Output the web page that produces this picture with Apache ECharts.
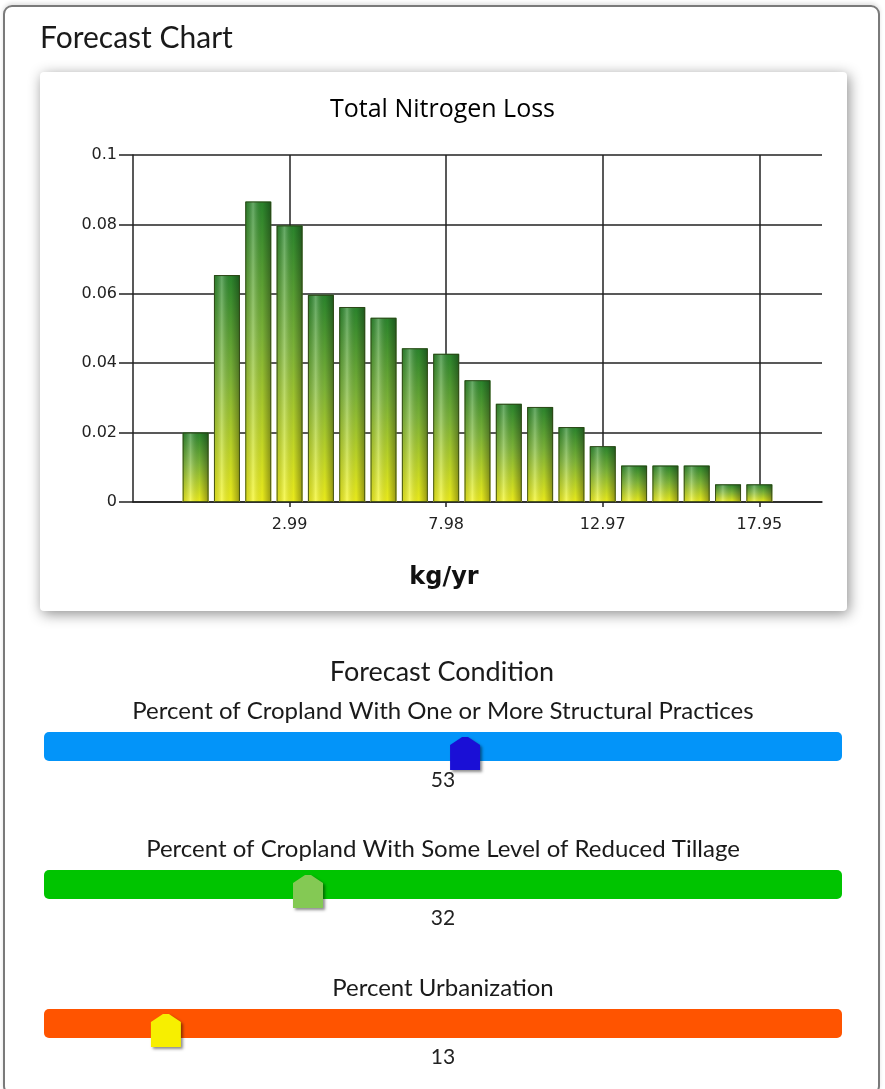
<!DOCTYPE html>
<html>
<head>
<meta charset="utf-8">
<script src="https://cdn.jsdelivr.net/npm/echarts@6/dist/echarts.min.js"></script>
<style>
  html, body { margin: 0; padding: 0; background: #fff; }
  #page { position: relative; width: 885px; height: 1089px; overflow: hidden; }
  #panel {
    position: absolute; left: 3px; top: 5px; width: 877px; height: 1090px;
    border: 2px solid #7a7a7a; border-radius: 9px; box-sizing: border-box;
    box-shadow: 0 -2px 4px rgba(0,0,0,0.12);
  }
  #card {
    position: absolute; left: 40px; top: 72px; width: 807px; height: 539px;
    background: #fff; border-radius: 4px;
    box-shadow: 2px 3px 14px rgba(0,0,0,0.45);
  }
  #chart { position: absolute; left: 0; top: 0; width: 885px; height: 1089px; }
</style>
</head>
<body>
<div id="page">
  <div id="panel"></div>
  <div id="card"></div>
  <div id="chart"></div>
</div>
<script>
// Histogram bins of total nitrogen loss (kg/yr), bin centres
const binCenters = ['0.00', '1.00', '1.99', '2.99', '3.99', '4.99', '5.98', '6.98', '7.98', '8.98',
                    '9.97', '10.97', '11.97', '12.97', '13.96', '14.96', '15.96', '16.96', '17.95'];
// Empty bins drawn either side of the histogram
const leadBins = ['-1.99', '-1.00'];
const trailBins = ['18.95', '19.95'];
// Probability of each bin
const lossValues = [0.0200, 0.0654, 0.0866, 0.0797, 0.0597, 0.0562, 0.0531, 0.0443, 0.0427, 0.0351,
                    0.0283, 0.0274, 0.0216, 0.0161, 0.0105, 0.0105, 0.0105, 0.0051, 0.0051];
// Labelled ticks on the x axis
const tickLabels = ['2.99', '7.98', '12.97', '17.95'];

// Forecast condition sliders
const sliderTitles = [
  'Percent of Cropland With One or More Structural Practices',
  'Percent of Cropland With Some Level of Reduced Tillage',
  'Percent Urbanization'
];
const sliderValues = [53, 32, 13];

// Styling
const trackColors = ['#0394f9', '#00c400', '#ff5400'];
const thumbColors = ['#1a0fd6', '#84c954', '#f7ef00'];
const panelFont = 'Lato, "Open Sans", sans-serif';
const axisFont = '"DejaVu Sans", sans-serif';
const sliderTop = [732, 870, 1009];
const trackLeft = 44, trackWidth = 798, trackHeight = 29;

const categories = leadBins.concat(binCenters, trailBins);
const barData = binCenters.map((c, i) => [c, lossValues[i]]);
const isTick = (idx, v) => tickLabels.indexOf(v) >= 0;

const chart = echarts.init(document.getElementById('chart'), null, { renderer: 'canvas' });

const grids = [{ left: 133, top: 155, width: 689, height: 347, containLabel: false, outerBoundsMode: 'none' }];
const xAxes = [{
  type: 'category', gridIndex: 0, data: categories, boundaryGap: false,
  axisLine: { lineStyle: { color: '#222', width: 1.5 } },
  axisTick: { interval: isTick, length: 5, lineStyle: { color: '#222', width: 1.5 } },
  axisLabel: { interval: isTick, color: '#222', fontFamily: axisFont, fontSize: 16, margin: 15 },
  splitLine: { show: true, interval: isTick, lineStyle: { color: '#222', width: 1.5 } }
}];
const yAxes = [{
  type: 'value', gridIndex: 0, min: 0, max: 0.1, interval: 0.02,
  axisLine: { show: true, lineStyle: { color: '#222', width: 1.5 } },
  axisTick: { show: true, length: 14, lineStyle: { color: '#222', width: 1.5 } },
  axisLabel: { color: '#222', fontFamily: axisFont, fontSize: 16, margin: 16 },
  splitLine: { show: true, lineStyle: { color: '#222', width: 1.5 } }
}];

const series = [
  {
    type: 'bar', xAxisIndex: 0, yAxisIndex: 0, data: barData, barWidth: 26,
    itemStyle: {
      color: new echarts.graphic.LinearGradient(0, 0, 0, 1, [
        { offset: 0, color: '#2c8a2e' },
        { offset: 0.45, color: '#82bb3a' },
        { offset: 1, color: '#f7f71c' }
      ])
    },
    z: 3
  },
  {
    // cylinder shading laid over the bars
    type: 'bar', xAxisIndex: 0, yAxisIndex: 0, data: barData, barWidth: 26, barGap: '-100%', silent: true,
    itemStyle: {
      color: new echarts.graphic.LinearGradient(0, 0, 1, 0, [
        { offset: 0, color: 'rgba(0,0,0,0.12)' },
        { offset: 0.3, color: 'rgba(255,255,255,0.28)' },
        { offset: 0.65, color: 'rgba(0,0,0,0.05)' },
        { offset: 1, color: 'rgba(0,0,0,0.38)' }
      ]),
      borderColor: 'rgba(45,60,20,0.85)', borderWidth: 1
    },
    z: 4
  }
];

const graphics = [
  { type: 'text', left: 40, top: 23, style: { text: 'Forecast Chart', font: '400 30px ' + panelFont, fill: '#1a1a1a' } },
  // x axis unit, centred in the card
  { type: 'text', x: 444, y: 578, style: { text: 'kg/yr', font: 'bold 24px ' + axisFont, fill: '#111', textAlign: 'center', textVerticalAlign: 'middle' } },
  { type: 'text', x: 442, y: 672, style: { text: 'Forecast Condition', font: '400 27px ' + panelFont, fill: '#1a1a1a', textAlign: 'center', textVerticalAlign: 'middle' } }
];

const sliderTitleY = [711, 849, 988];
const sliderValueY = [780, 918, 1057];

sliderValues.forEach((val, k) => {
  const gi = k + 1;
  grids.push({ left: trackLeft, top: sliderTop[k], width: trackWidth, height: trackHeight, containLabel: false, outerBoundsMode: 'none' });
  xAxes.push({ type: 'value', gridIndex: gi, min: -3.3, max: 103.4, show: false });
  yAxes.push({ type: 'value', gridIndex: gi, min: 0, max: 1, show: false });
  series.push({
    type: 'scatter', xAxisIndex: gi, yAxisIndex: gi,
    data: [[val, 0.5]],
    symbol: 'path://M0,8 L12,0 L18,0 L30,8 L30,33 L0,33 Z',
    symbolSize: [30, 33], symbolOffset: [0, 7],
    itemStyle: {
      color: thumbColors[k], opacity: 1,
      shadowColor: 'rgba(0,0,0,0.45)', shadowBlur: 3, shadowOffsetX: 2, shadowOffsetY: 2
    },
    z: 5, silent: true
  });
  graphics.push({
    type: 'rect', shape: { x: trackLeft, y: sliderTop[k], width: trackWidth, height: trackHeight, r: 5 },
    style: { fill: trackColors[k] }, z: 1
  });
  graphics.push({
    type: 'text', x: 443, y: sliderTitleY[k],
    style: { text: sliderTitles[k], font: '400 24px ' + panelFont, fill: '#1a1a1a', textAlign: 'center', textVerticalAlign: 'middle' }
  });
  graphics.push({
    type: 'text', x: 443, y: sliderValueY[k],
    style: { text: String(val), font: '400 21px ' + panelFont, fill: '#222', textAlign: 'center', textVerticalAlign: 'middle' }
  });
});

chart.setOption({
  animation: false,
  backgroundColor: 'transparent',
  title: {
    text: 'Total Nitrogen Loss', left: 'center', top: 92,
    textStyle: { fontFamily: '"Open Sans", sans-serif', fontWeight: 'normal', fontSize: 25, color: '#000' }
  },
  grid: grids,
  xAxis: xAxes,
  yAxis: yAxes,
  series: series,
  graphic: graphics
});
</script>
</body>
</html>
